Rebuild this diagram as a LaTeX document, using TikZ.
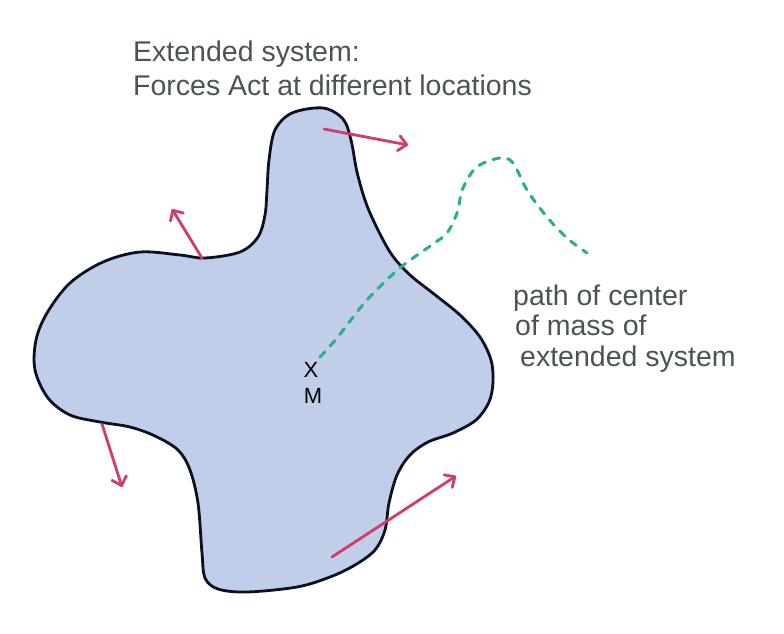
\documentclass[tikz,border=0pt]{standalone}
\usepackage{fontspec}
\setmainfont{Liberation Sans}
\usetikzlibrary{arrows.meta}
\definecolor{blobfill}{HTML}{C1CEEA}
\definecolor{blobline}{HTML}{0B1120}
\definecolor{force}{HTML}{D23C6C}
\definecolor{cmpath}{HTML}{2AAE8C}
\definecolor{ink}{HTML}{4A5553}
\tikzset{
  forcearrow/.style={force, line width=2.8pt, line cap=round,
    -{Straight Barb[length=8pt,width=15pt,round]}},
  cmline/.style={cmpath, line width=3pt, line cap=round, dash pattern=on 7pt off 8pt},
  handtext/.style={ink, font=\fontsize{28.5}{28.5}\selectfont, anchor=base west, inner sep=0pt},
  marktext/.style={black, font=\fontsize{22}{22}\selectfont, inner sep=0pt}
}
\begin{document}
\begin{tikzpicture}[x=1pt,y=-1pt]
\useasboundingbox (0,0) rectangle (784,634);
% blob
\draw[fill=blobfill, draw=blobline, line width=2.8pt]
  plot[smooth cycle, tension=0.55] coordinates {
  (323,108) (343,119) (351,140) (357,172) (366,203) (378,230) (392,255)
  (410,275) (434,294) (460,315) (480,337) (491,360) (493,382) (489,402)
  (476,420) (453,433) (428,442) (410,455) (397,475) (389,503) (385,530)
  (375,550) (355,565) (330,577) (297,587) (247,592) (218,589) (205,578)
  (202,553) (198,503) (190,470) (178,450) (155,436) (130,427) (100,422)
  (70,415) (48,398) (35,370) (36,340) (47,313) (70,283) (103,262) (140,252)
  (180,255) (205,258) (240,252) (258,237) (265,215) (267,190) (269,160)
  (275,130) (292,113)};
% centre of mass
\node[marktext] (x) at (311,370) {X};
\node[marktext] (m) at (313,396) {M};
% path of centre of mass
\coordinate (p0) at (320,357);
\draw[cmline] plot[smooth, tension=0.6] coordinates {
  (p0) (337,338) (367,300) (400,268) (433,244) (447,233) (457,213)
  (463,188) (477,167) (500,158) (513,163) (527,190) (547,217) (567,238) (587,253)};
% forces
\coordinate (f1s) at (324,129); \coordinate (f1e) at (408,145);
\coordinate (f2s) at (202,258); \coordinate (f2e) at (172,209);
\coordinate (f3s) at (102,424); \coordinate (f3e) at (122,487);
\coordinate (f4s) at (332,557); \coordinate (f4e) at (456,476);
\draw[forcearrow] (f1s) -- (f1e);
\draw[forcearrow] (f2s) -- (f2e);
\draw[forcearrow] (f3s) -- (f3e);
\draw[forcearrow] (f4s) -- (f4e);
% labels
\node[handtext] (title1) at (133,62) {Extended system:};
\node[handtext] (title2) at (133,95) {Forces Act at different locations};
\node[handtext] (cm1) at (513,305) {path of center};
\node[handtext] (cm2) at (515,335) {of mass of};
\node[handtext] (cm3) at (520,366) {extended system};
\end{tikzpicture}
\end{document}
